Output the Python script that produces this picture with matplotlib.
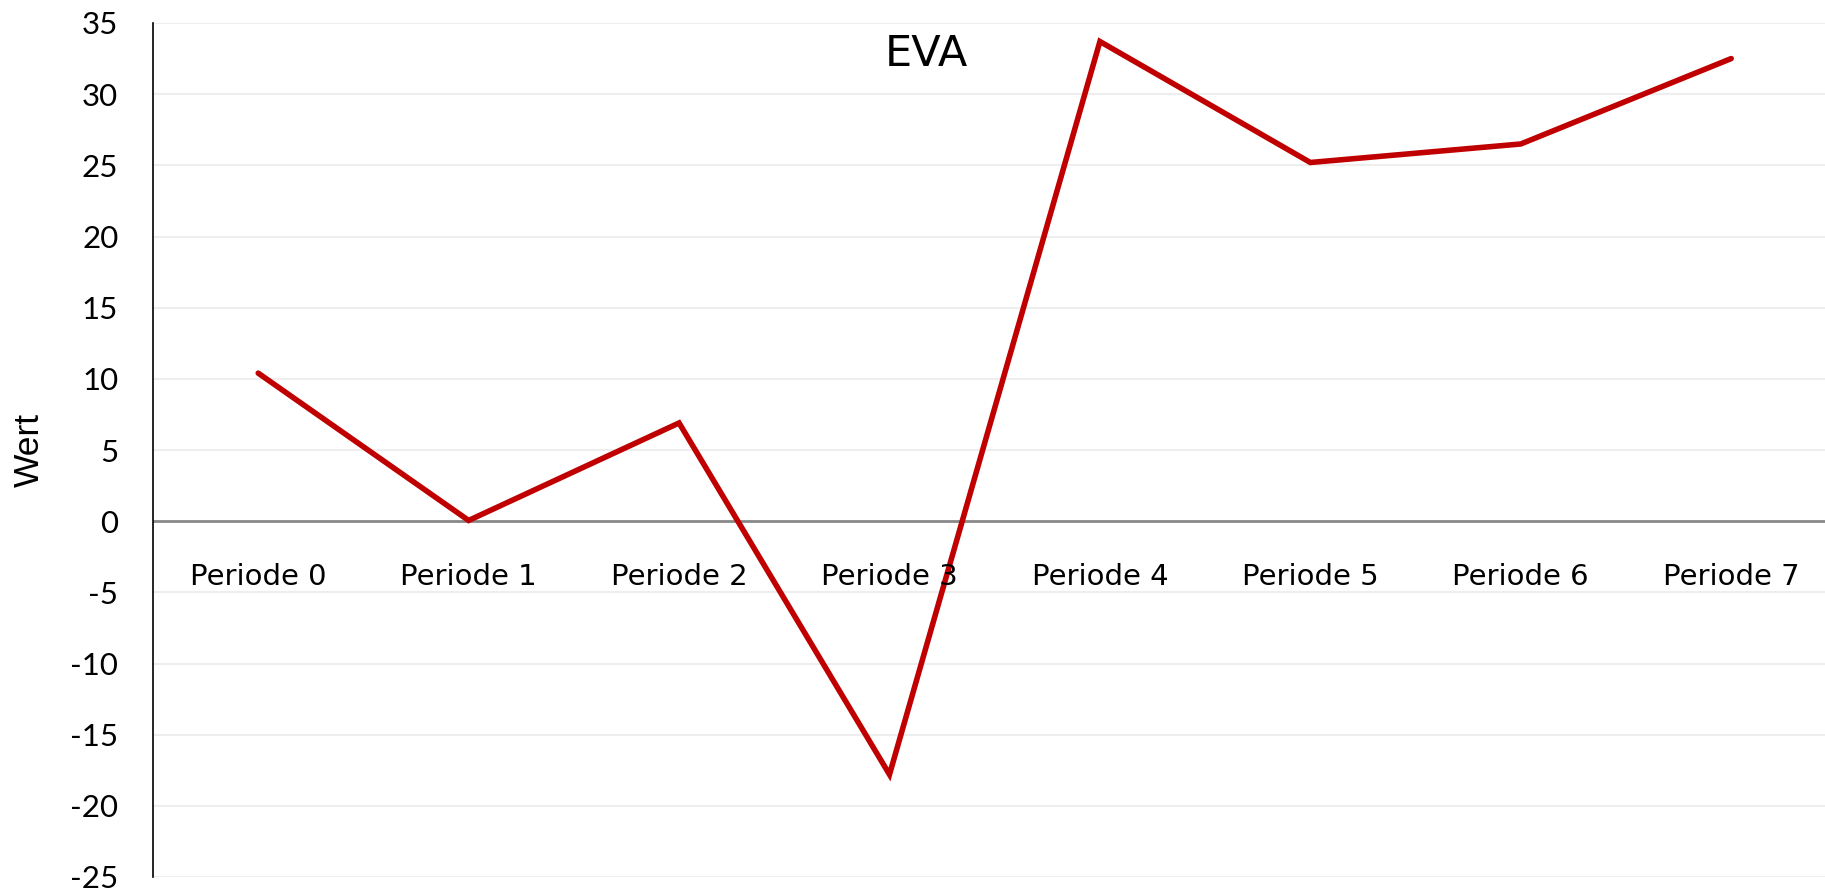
import matplotlib
matplotlib.use("Agg")
import matplotlib.pyplot as plt

# data
periods = ["Periode 0", "Periode 1", "Periode 2", "Periode 3",
           "Periode 4", "Periode 5", "Periode 6", "Periode 7"]
eva = [10.4, 0.05, 6.9, -17.8, 33.7, 25.2, 26.5, 32.5]
yticks = [-25, -20, -15, -10, -5, 0, 5, 10, 15, 20, 25, 30, 35]

W, H, DPI = 1825, 892, 100
fig = plt.figure(figsize=(W / DPI, H / DPI), dpi=DPI)
ax = fig.add_axes([153 / W, 1 - 877 / H, 1 - 153 / W, (877 - 23) / H])

x = list(range(len(periods)))
ax.plot(x, eva, color="#C00000", lw=4.0, solid_capstyle="round",
        solid_joinstyle="miter", zorder=3)

ax.set_ylim(-25, 35)
ax.set_xlim(-0.5, -0.5 + (W - 154) / 210.3)
ax.set_yticks(yticks)
ax.set_yticklabels([str(v) for v in yticks], fontsize=22.5, family="Lato")
ax.tick_params(axis="y", length=0, pad=25)
ax.set_xticks([])

for v in yticks:
    if v != 0:
        ax.axhline(v, color="#eeeeee", lw=1.5, zorder=1)
ax.axhline(0, color="#888888", lw=2, zorder=2)

for s in ["top", "right", "bottom"]:
    ax.spines[s].set_visible(False)
ax.spines["left"].set_color("black")
ax.spines["left"].set_linewidth(1.2)

# category labels sit just below the zero line
for xi, lab in zip(x, periods):
    ax.annotate(lab, (xi, 0), xytext=(0, -46), textcoords="offset points",
                ha="center", va="baseline", fontsize=21, family="DejaVu Sans")

ax.set_ylabel("Wert", fontsize=25.5, family="Liberation Sans", labelpad=0)
ax.yaxis.set_label_coords(-(153 - 29) / (W - 153), 0.5)
ax.yaxis.label.set_va("center")

fig.text(926 / W, 1 - 66 / H, "EVA", ha="center", va="baseline",
         fontsize=31, family="DejaVu Sans")

fig.savefig("out.png", dpi=DPI)
